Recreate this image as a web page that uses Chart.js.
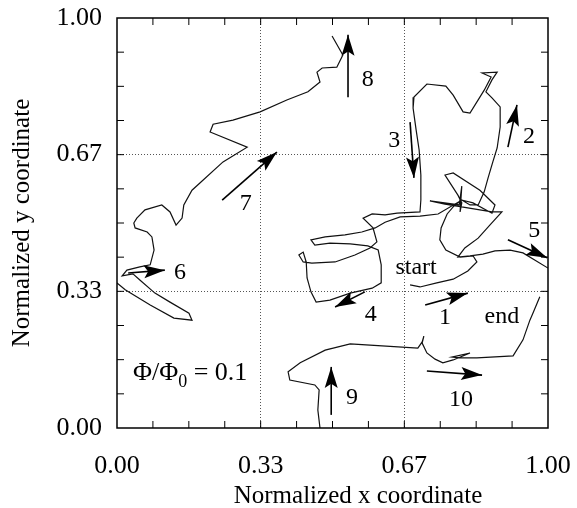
<!DOCTYPE html>
<html>
<head>
<meta charset="utf-8">
<script src="https://cdn.jsdelivr.net/npm/chart.js@4.4.1/dist/chart.umd.min.js"></script>
<style>
  html, body { margin: 0; padding: 0; background: #fff; }
  #wrap { width: 577px; height: 508px; }
</style>
</head>
<body>
<div id="wrap"><canvas id="chart" width="577" height="508"></canvas></div>
<script>
// trajectory pieces in normalized coordinates [x, y]
// start -> 1 -> 2 -> 3 -> 4 -> 5, leaves through the right edge
const pathStart = [
  [0.680, 0.349], [0.703, 0.344], [0.742, 0.354], [0.780, 0.363], [0.814, 0.383],
  [0.835, 0.405], [0.826, 0.420], [0.796, 0.417], [0.763, 0.434], [0.749, 0.459],
  [0.752, 0.488], [0.766, 0.522], [0.784, 0.544], [0.800, 0.556], [0.819, 0.544],
  [0.838, 0.544], [0.852, 0.576], [0.861, 0.610], [0.872, 0.649], [0.882, 0.683],
  [0.889, 0.734], [0.889, 0.783], [0.870, 0.805], [0.856, 0.820], [0.870, 0.849],
  [0.882, 0.868], [0.847, 0.866], [0.868, 0.856], [0.852, 0.824], [0.819, 0.768],
  [0.803, 0.771], [0.780, 0.812], [0.763, 0.834], [0.719, 0.839], [0.689, 0.807],
  [0.687, 0.780], [0.694, 0.727], [0.701, 0.678], [0.705, 0.617], [0.705, 0.556],
  [0.703, 0.527], [0.650, 0.524], [0.622, 0.520], [0.592, 0.522], [0.571, 0.512],
  [0.594, 0.488], [0.603, 0.454], [0.587, 0.439], [0.552, 0.422], [0.506, 0.405],
  [0.452, 0.402], [0.432, 0.405], [0.422, 0.422], [0.432, 0.429], [0.439, 0.405],
  [0.441, 0.366], [0.450, 0.332], [0.462, 0.307], [0.494, 0.312], [0.541, 0.329],
  [0.592, 0.341], [0.613, 0.354], [0.613, 0.398], [0.606, 0.434], [0.582, 0.444],
  [0.541, 0.449], [0.494, 0.451], [0.459, 0.446], [0.450, 0.459], [0.483, 0.466],
  [0.529, 0.471], [0.568, 0.478], [0.599, 0.488], [0.622, 0.502], [0.657, 0.515],
  [0.703, 0.517], [0.745, 0.522], [0.800, 0.556], [0.826, 0.549], [0.870, 0.524],
  [0.877, 0.544], [0.842, 0.580], [0.780, 0.622], [0.761, 0.617], [0.791, 0.568],
  [0.800, 0.549], [0.796, 0.527], [0.800, 0.590], [0.794, 0.544], [0.726, 0.554],
  [0.761, 0.546], [0.870, 0.527], [0.893, 0.527], [0.865, 0.495], [0.838, 0.463],
  [0.807, 0.439], [0.791, 0.417], [0.819, 0.420], [0.849, 0.424], [0.877, 0.432],
  [0.912, 0.434], [0.942, 0.427], [1.000, 0.390]
];
// comes back through the left edge: 6 -> 7 -> 8
const pathLeft = [
  [0.000, 0.354], [0.019, 0.337], [0.077, 0.300], [0.132, 0.268], [0.174, 0.263],
  [0.167, 0.280], [0.123, 0.307], [0.088, 0.329], [0.053, 0.361], [0.037, 0.376],
  [0.012, 0.371], [0.023, 0.385], [0.053, 0.393], [0.077, 0.398], [0.086, 0.434],
  [0.081, 0.466], [0.070, 0.478], [0.042, 0.488], [0.039, 0.500], [0.046, 0.512],
  [0.065, 0.532], [0.104, 0.544], [0.123, 0.527], [0.137, 0.495], [0.151, 0.512],
  [0.155, 0.544], [0.174, 0.580], [0.193, 0.598], [0.246, 0.649], [0.302, 0.685],
  [0.216, 0.722], [0.223, 0.741], [0.269, 0.751], [0.332, 0.771], [0.394, 0.800],
  [0.443, 0.820], [0.471, 0.844], [0.464, 0.868], [0.476, 0.878], [0.510, 0.880],
  [0.524, 0.910], [0.499, 0.956]
];
// re-enters at the bottom: 9 -> 10 -> end
const pathBottom = [
  [0.471, 0.000], [0.466, 0.044], [0.469, 0.093], [0.459, 0.105], [0.401, 0.117],
  [0.397, 0.137], [0.425, 0.159], [0.483, 0.190], [0.541, 0.205], [0.587, 0.202],
  [0.698, 0.195], [0.708, 0.210], [0.712, 0.224], [0.708, 0.207], [0.719, 0.183],
  [0.738, 0.168], [0.756, 0.159], [0.780, 0.166], [0.819, 0.183], [0.777, 0.173],
  [0.796, 0.171], [0.835, 0.171], [0.919, 0.176], [0.942, 0.215], [0.958, 0.263],
  [0.965, 0.280], [0.981, 0.320]
];

// direction arrows 1..10 (tail -> tip)
const arrowTailX = [0.715, 0.907, 0.680, 0.575, 0.907, 0.026, 0.244, 0.536, 0.497, 0.719];
const arrowTailY = [0.300, 0.685, 0.746, 0.332, 0.459, 0.378, 0.556, 0.807, 0.032, 0.139];
const arrowTipX  = [0.814, 0.928, 0.689, 0.506, 0.998, 0.111, 0.371, 0.536, 0.497, 0.847];
const arrowTipY  = [0.329, 0.788, 0.610, 0.295, 0.415, 0.385, 0.673, 0.959, 0.149, 0.129];

const labelText = ['1', '2', '3', '4', '5', '6', '7', '8', '9', '10', 'start', 'end'];
const labelX = [0.761, 0.956, 0.643, 0.589, 0.968, 0.146, 0.299, 0.582, 0.545, 0.798, 0.694, 0.893];
const labelY = [0.268, 0.710, 0.700, 0.276, 0.480, 0.378, 0.546, 0.849, 0.073, 0.068, 0.390, 0.271];

const tickValues = [0, 1 / 3, 2 / 3, 1];
const tickLabels = ['0.00', '0.33', '0.67', '1.00'];
const minorCount = 12;

const serif = "'Liberation Serif', 'Times New Roman', serif";

const toPoints = arr => arr.map(p => ({ x: p[0], y: p[1] }));
const isThird = v => Math.abs(v - 1 / 3) < 1e-6 || Math.abs(v - 2 / 3) < 1e-6;

const datasets = [pathStart, pathLeft, pathBottom].map(p => ({
  data: toPoints(p),
  borderColor: '#111',
  borderWidth: 1.2,
  pointRadius: 0,
  tension: 0,
  fill: false
}));
arrowTailX.forEach((_, i) => {
  datasets.push({
    data: [{ x: arrowTailX[i], y: arrowTailY[i] }, { x: arrowTipX[i], y: arrowTipY[i] }],
    borderColor: '#000',
    borderWidth: 1.6,
    pointRadius: 0,
    fill: false
  });
});

function axisConfig(isX) {
  return {
    type: 'linear',
    min: 0,
    max: 1,
    afterBuildTicks: scale => {
      scale.ticks = Array.from({ length: minorCount + 1 }, (_, k) => ({ value: k / minorCount }));
    },
    afterFit: scale => {
      if (isX) scale.height = 80; else scale.width = 117;
      // keep the plot frame where the figure has it
      scale.paddingTop = 0;
      scale.paddingBottom = 0;
      scale.paddingLeft = 0;
      scale.paddingRight = 0;
    },
    ticks: {
      autoSkip: false,
      maxRotation: 0,
      color: '#000',
      padding: isX ? 23 : 15,
      font: { family: serif, size: 26 },
      callback: v => {
        const i = tickValues.findIndex(t => Math.abs(t - v) < 1e-6);
        return i >= 0 ? tickLabels[i] : '';
      }
    },
    grid: {
      drawTicks: false,
      lineWidth: 1,
      color: ctx => (ctx.tick && isThird(ctx.tick.value)) ? '#555' : 'rgba(0,0,0,0)'
    },
    border: { display: false, dash: [1, 2] }
  };
}

const decorations = {
  id: 'decorations',
  afterDraw(chart) {
    const { ctx, chartArea: a, scales: { x, y } } = chart;
    ctx.save();
    // frame
    ctx.strokeStyle = '#000';
    ctx.lineWidth = 1.5;
    ctx.strokeRect(a.left, a.top, a.right - a.left, a.bottom - a.top);
    // inward minor ticks on all four sides
    ctx.lineWidth = 1;
    ctx.beginPath();
    for (let k = 1; k < minorCount; k++) {
      const px = x.getPixelForValue(k / minorCount);
      const py = y.getPixelForValue(k / minorCount);
      ctx.moveTo(px, a.bottom); ctx.lineTo(px, a.bottom - 7);
      ctx.moveTo(px, a.top); ctx.lineTo(px, a.top + 7);
      ctx.moveTo(a.left, py); ctx.lineTo(a.left + 7, py);
      ctx.moveTo(a.right, py); ctx.lineTo(a.right - 7, py);
    }
    ctx.stroke();

    // arrow heads
    ctx.fillStyle = '#000';
    arrowTipX.forEach((_, i) => {
      const x1 = x.getPixelForValue(arrowTailX[i]), y1 = y.getPixelForValue(arrowTailY[i]);
      const x2 = x.getPixelForValue(arrowTipX[i]), y2 = y.getPixelForValue(arrowTipY[i]);
      const len = Math.hypot(x2 - x1, y2 - y1);
      const ux = (x2 - x1) / len, uy = (y2 - y1) / len;
      const L = 21, W = 6.5;
      ctx.beginPath();
      ctx.moveTo(x2, y2);
      ctx.lineTo(x2 - L * ux - W * uy, y2 - L * uy + W * ux);
      ctx.lineTo(x2 - 0.8 * L * ux, y2 - 0.8 * L * uy);
      ctx.lineTo(x2 - L * ux + W * uy, y2 - L * uy - W * ux);
      ctx.closePath();
      ctx.fill();
    });

    // annotations
    ctx.font = '24px ' + serif;
    ctx.textAlign = 'center';
    ctx.textBaseline = 'middle';
    labelText.forEach((t, i) => {
      ctx.fillText(t, x.getPixelForValue(labelX[i]), y.getPixelForValue(labelY[i]));
    });

    // flux ratio label
    let tx = x.getPixelForValue(0.037);
    const ty = y.getPixelForValue(0.117);
    ctx.textAlign = 'left';
    ctx.textBaseline = 'alphabetic';
    ctx.font = '26px ' + serif;
    ctx.fillText('\u03A6/\u03A6', tx, ty);
    tx += ctx.measureText('\u03A6/\u03A6').width;
    ctx.font = '18px ' + serif;
    ctx.fillText('0', tx, ty + 7);
    tx += ctx.measureText('0').width;
    ctx.font = '26px ' + serif;
    ctx.fillText(' = 0.1', tx, ty);

    // axis titles
    ctx.font = '25px ' + serif;
    ctx.textAlign = 'center';
    ctx.textBaseline = 'middle';
    ctx.fillText('Normalized x coordinate', 358, 496);
    ctx.translate(22, (a.top + a.bottom) / 2);
    ctx.rotate(-Math.PI / 2);
    ctx.fillText('Normalized y coordinate', 0, 0);
    ctx.restore();
  }
};

new Chart(document.getElementById('chart'), {
  type: 'line',
  data: { datasets },
  options: {
    responsive: false,
    animation: false,
    layout: { padding: { top: 18, right: 29, left: 0, bottom: 0 } },
    plugins: { legend: { display: false }, tooltip: { enabled: false } },
    scales: { x: axisConfig(true), y: axisConfig(false) }
  },
  plugins: [decorations]
});
</script>
</body>
</html>
